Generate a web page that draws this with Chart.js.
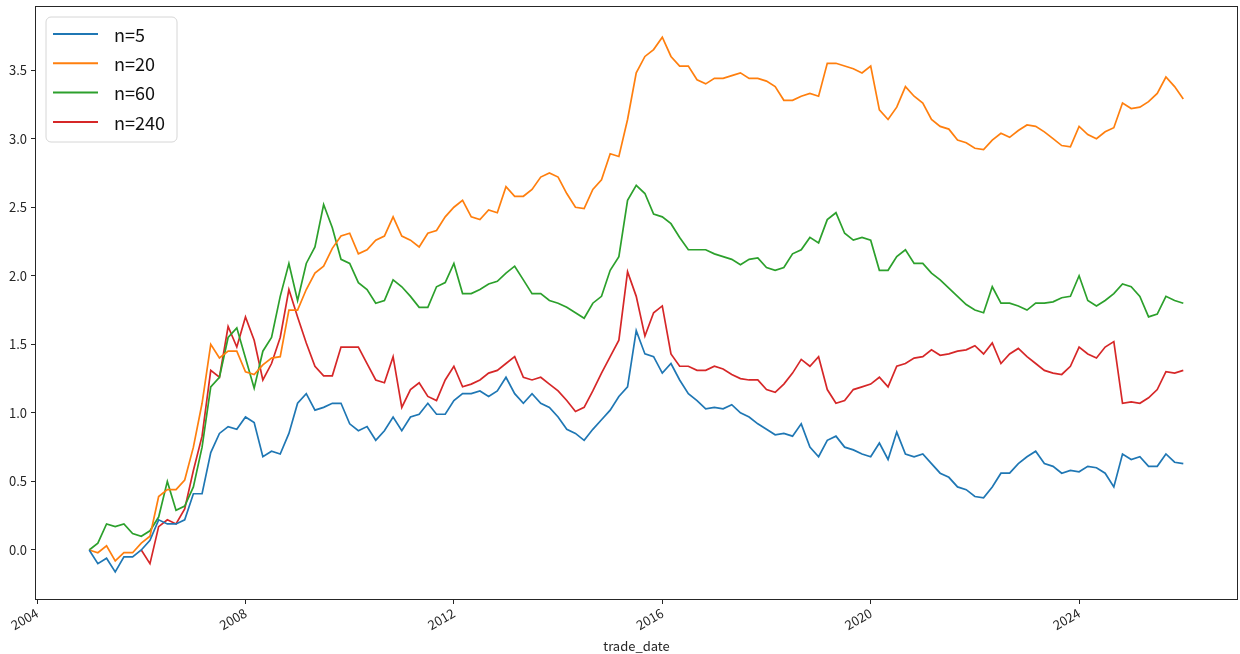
<!DOCTYPE html>
<html>
<head>
<meta charset="utf-8">
<script src="https://cdn.jsdelivr.net/npm/chart.js@4.4.0/dist/chart.umd.min.js"></script>
<style>
  html, body { margin: 0; padding: 0; background: #ffffff; }
  #wrap { width: 1240px; height: 654px; position: relative; }
</style>
</head>
<body>
<div id="wrap"><canvas id="c" width="1240" height="654"></canvas></div>
<script>
// Cumulative returns sampled every two months, first sample January 2005
const startYear = 2005;
const monthsPerStep = 2;

const seriesNames = ['n=5', 'n=20', 'n=60', 'n=240'];
const seriesColors = ['#1f77b4', '#ff7f0e', '#2ca02c', '#d62728'];

const n5 = [
  0.00, -0.10, -0.06, -0.16, -0.05, -0.05, 0.00, 0.07, 0.22, 0.19, 0.19, 0.22,
  0.41, 0.41, 0.71, 0.85, 0.90, 0.88, 0.97, 0.93, 0.68, 0.72, 0.70, 0.85,
  1.07, 1.14, 1.02, 1.04, 1.07, 1.07, 0.92, 0.87, 0.90, 0.80, 0.87, 0.97,
  0.87, 0.97, 0.99, 1.07, 0.99, 0.99, 1.09, 1.14, 1.14, 1.16, 1.12, 1.16,
  1.26, 1.14, 1.07, 1.14, 1.07, 1.04, 0.97, 0.88, 0.85, 0.80, 0.88, 0.95,
  1.02, 1.12, 1.19, 1.60, 1.43, 1.41, 1.29, 1.36, 1.24, 1.14, 1.09, 1.03,
  1.04, 1.03, 1.06, 1.00, 0.97, 0.92, 0.88, 0.84, 0.85, 0.83, 0.92, 0.75,
  0.68, 0.80, 0.83, 0.75, 0.73, 0.70, 0.68, 0.78, 0.66, 0.86, 0.70, 0.68,
  0.70, 0.63, 0.56, 0.53, 0.46, 0.44, 0.39, 0.38, 0.46, 0.56, 0.56, 0.63,
  0.68, 0.72, 0.63, 0.61, 0.56, 0.58, 0.57, 0.61, 0.60, 0.56, 0.46, 0.70,
  0.66, 0.68, 0.61, 0.61, 0.70, 0.64, 0.63
];

const n20 = [
  0.00, -0.02, 0.03, -0.08, -0.02, -0.02, 0.05, 0.10, 0.39, 0.44, 0.44, 0.51,
  0.75, 1.07, 1.50, 1.40, 1.45, 1.45, 1.30, 1.28, 1.35, 1.40, 1.41, 1.75,
  1.75, 1.90, 2.02, 2.07, 2.20, 2.29, 2.31, 2.16, 2.19, 2.26, 2.29, 2.43,
  2.29, 2.26, 2.21, 2.31, 2.33, 2.43, 2.50, 2.55, 2.43, 2.41, 2.48, 2.46,
  2.65, 2.58, 2.58, 2.63, 2.72, 2.75, 2.72, 2.60, 2.50, 2.49, 2.63, 2.70,
  2.89, 2.87, 3.14, 3.48, 3.60, 3.65, 3.74, 3.60, 3.53, 3.53, 3.43, 3.40,
  3.44, 3.44, 3.46, 3.48, 3.44, 3.44, 3.42, 3.38, 3.28, 3.28, 3.31, 3.33,
  3.31, 3.55, 3.55, 3.53, 3.51, 3.48, 3.53, 3.21, 3.14, 3.23, 3.38, 3.31,
  3.26, 3.14, 3.09, 3.07, 2.99, 2.97, 2.93, 2.92, 2.99, 3.04, 3.01, 3.06,
  3.10, 3.09, 3.05, 3.00, 2.95, 2.94, 3.09, 3.03, 3.00, 3.05, 3.08, 3.26,
  3.22, 3.23, 3.27, 3.33, 3.45, 3.38, 3.29
];

const n60 = [
  0.00, 0.05, 0.19, 0.17, 0.19, 0.12, 0.10, 0.14, 0.24, 0.50, 0.29, 0.32,
  0.46, 0.75, 1.19, 1.26, 1.55, 1.62, 1.40, 1.18, 1.45, 1.55, 1.85, 2.09,
  1.82, 2.09, 2.21, 2.52, 2.35, 2.12, 2.09, 1.95, 1.90, 1.80, 1.82, 1.97,
  1.92, 1.85, 1.77, 1.77, 1.92, 1.95, 2.09, 1.87, 1.87, 1.90, 1.94, 1.96,
  2.02, 2.07, 1.97, 1.87, 1.87, 1.82, 1.80, 1.77, 1.73, 1.69, 1.80, 1.85,
  2.04, 2.14, 2.55, 2.66, 2.60, 2.45, 2.43, 2.38, 2.28, 2.19, 2.19, 2.19,
  2.16, 2.14, 2.12, 2.08, 2.12, 2.13, 2.06, 2.04, 2.06, 2.16, 2.19, 2.28,
  2.24, 2.41, 2.46, 2.31, 2.26, 2.28, 2.26, 2.04, 2.04, 2.14, 2.19, 2.09,
  2.09, 2.02, 1.97, 1.91, 1.85, 1.79, 1.75, 1.73, 1.92, 1.80, 1.80, 1.78,
  1.75, 1.80, 1.80, 1.81, 1.84, 1.85, 2.00, 1.82, 1.78, 1.82, 1.87, 1.94,
  1.92, 1.85, 1.70, 1.72, 1.85, 1.82, 1.80
];

const n240 = [
  null, null, null, null, null, null, 0.00, -0.10, 0.17, 0.22, 0.19, 0.30,
  0.58, 0.83, 1.31, 1.26, 1.63, 1.48, 1.70, 1.53, 1.24, 1.36, 1.55, 1.90,
  1.70, 1.51, 1.34, 1.27, 1.27, 1.48, 1.48, 1.48, 1.36, 1.24, 1.22, 1.41,
  1.04, 1.17, 1.22, 1.12, 1.09, 1.24, 1.34, 1.19, 1.21, 1.24, 1.29, 1.31,
  1.36, 1.41, 1.26, 1.24, 1.26, 1.21, 1.16, 1.09, 1.01, 1.04, 1.16, 1.29,
  1.41, 1.53, 2.03, 1.85, 1.56, 1.73, 1.78, 1.43, 1.34, 1.34, 1.31, 1.31,
  1.34, 1.32, 1.28, 1.25, 1.24, 1.24, 1.17, 1.15, 1.21, 1.29, 1.39, 1.34,
  1.41, 1.17, 1.07, 1.09, 1.17, 1.19, 1.21, 1.26, 1.19, 1.34, 1.36, 1.40,
  1.41, 1.46, 1.42, 1.43, 1.45, 1.46, 1.49, 1.43, 1.51, 1.36, 1.43, 1.47,
  1.41, 1.36, 1.31, 1.29, 1.28, 1.34, 1.48, 1.43, 1.40, 1.48, 1.52, 1.07,
  1.08, 1.07, 1.11, 1.17, 1.30, 1.29, 1.31
];

const xTickYears = [2004, 2008, 2012, 2016, 2020, 2024];
const yTickValues = [0.0, 0.5, 1.0, 1.5, 2.0, 2.5, 3.0, 3.5];

const seriesValues = [n5, n20, n60, n240];
const dates = n5.map((_, i) => startYear + (i * monthsPerStep) / 12);

const tickFont = { family: "'Noto Sans CJK SC', 'DejaVu Sans', sans-serif", size: 13 };
const inkColor = '#262626';

// Axes frame drawn on all four sides, above the lines
const framePlugin = {
  id: 'frame',
  afterDatasetsDraw(chart) {
    const { ctx, chartArea: a } = chart;
    ctx.save();
    ctx.strokeStyle = inkColor;
    ctx.lineWidth = 1;
    ctx.strokeRect(Math.round(a.left) + 0.5, Math.round(a.top) + 0.5,
                   Math.round(a.right - a.left) - 1, Math.round(a.bottom - a.top) - 1);
    ctx.restore();
  }
};

// Boxed legend in the upper-left corner of the plot
const boxLegendPlugin = {
  id: 'boxLegend',
  afterDraw(chart) {
    const { ctx, chartArea: a } = chart;
    const x0 = a.left + 11, y0 = a.top + 11, w = 131, h = 125, r = 5;
    ctx.save();
    ctx.beginPath();
    ctx.moveTo(x0 + r, y0);
    ctx.arcTo(x0 + w, y0, x0 + w, y0 + h, r);
    ctx.arcTo(x0 + w, y0 + h, x0, y0 + h, r);
    ctx.arcTo(x0, y0 + h, x0, y0, r);
    ctx.arcTo(x0, y0, x0 + w, y0, r);
    ctx.closePath();
    ctx.fillStyle = 'rgba(255,255,255,0.8)';
    ctx.fill();
    ctx.strokeStyle = '#d6d6d6';
    ctx.lineWidth = 1;
    ctx.stroke();
    ctx.font = "18px 'Noto Sans CJK SC', 'DejaVu Sans', sans-serif";
    ctx.textBaseline = 'middle';
    ctx.textAlign = 'left';
    chart.data.datasets.forEach((ds, i) => {
      const yy = y0 + 17 + i * 29.3;
      ctx.strokeStyle = ds.borderColor;
      ctx.lineWidth = 2;
      ctx.beginPath();
      ctx.moveTo(x0 + 7, yy);
      ctx.lineTo(x0 + 52, yy);
      ctx.stroke();
      ctx.fillStyle = '#111';
      ctx.fillText(ds.label, x0 + 68, yy + 1);
    });
    ctx.restore();
  }
};

new Chart(document.getElementById('c'), {
  type: 'line',
  data: {
    datasets: seriesValues.map((vals, i) => ({
      label: seriesNames[i],
      data: vals.map((v, k) => ({ x: dates[k], y: v })),
      borderColor: seriesColors[i],
      backgroundColor: seriesColors[i],
      borderWidth: 1.7,
      pointRadius: 0,
      tension: 0,
      fill: false
    }))
  },
  options: {
    responsive: false,
    animation: false,
    devicePixelRatio: 1,
    layout: { padding: { left: 0, right: 2, top: 6, bottom: 0 } },
    plugins: { legend: { display: false }, tooltip: { enabled: false } },
    scales: {
      x: {
        type: 'linear',
        min: 2003.96,
        max: 2027.05,
        afterBuildTicks: s => { s.ticks = xTickYears.map(v => ({ value: v })); },
        afterFit: s => { s.height = 54; s.paddingLeft = 0; s.paddingRight = 0; },
        ticks: {
          minRotation: 30, maxRotation: 30, autoSkip: false,
          color: inkColor, font: tickFont, padding: 1,
          callback: v => String(v)
        },
        grid: { drawOnChartArea: false, drawTicks: true, tickLength: 4, tickColor: inkColor, tickWidth: 1 },
        border: { display: false },
        title: {
          display: true, text: 'trade_date', color: inkColor,
          font: tickFont, padding: { top: 0, bottom: 0 }
        }
      },
      y: {
        type: 'linear',
        min: -0.365,
        max: 3.968,
        afterBuildTicks: s => { s.ticks = yTickValues.map(v => ({ value: v })); },
        afterFit: s => { s.width = 35; s.paddingTop = 0; s.paddingBottom = 0; },
        ticks: { color: inkColor, font: tickFont, padding: 4, callback: v => Number(v).toFixed(1) },
        grid: { drawOnChartArea: false, drawTicks: true, tickLength: 4, tickColor: inkColor, tickWidth: 1 },
        border: { display: false }
      }
    }
  },
  plugins: [framePlugin, boxLegendPlugin]
});
</script>
</body>
</html>
